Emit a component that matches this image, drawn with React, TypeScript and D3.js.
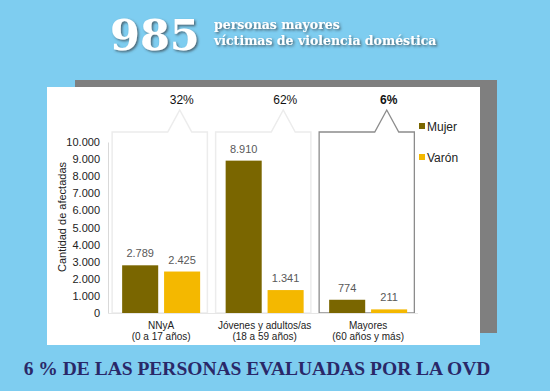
import { useRef, useEffect } from "react";
import * as d3 from "d3";

const categories = ["NNyA", "Jóvenes y adultos/as", "Mayores"];
const categorySub = ["(0 a 17 años)", "(18 a 59 años)", "(60 años y más)"];
const seriesNames = ["Mujer", "Varón"];
const mujer = [2789, 8910, 774];
const varon = [2425, 1341, 211];
const shares = ["32%", "62%", "6%"];

const W = 550;
const H = 391;
const colors = ["#7a6600", "#f4b800"];

export default function App() {
  const svgRef = useRef<SVGSVGElement>(null);

  useEffect(() => {
    const svg = d3.select(svgRef.current).html(null);
    const locale = d3.formatLocale({ decimal: ",", thousands: ".", grouping: [3], currency: ["$", ""] });
    const fmt = locale.format(",d");

    // background
    svg.append("rect").attr("width", W).attr("height", H).attr("fill", "#7ecdf0");
    svg.append("rect").attr("x", 75).attr("y", 80).attr("width", 422).attr("height", 253).attr("fill", "#7f7f7f");
    svg.append("rect").attr("x", 47).attr("y", 87).attr("width", 433).attr("height", 258).attr("fill", "#fff");

    const defs = svg.append("defs");
    const f = defs.append("filter").attr("id", "sh").attr("x", "-10%").attr("y", "-10%").attr("width", "130%").attr("height", "140%");
    f.append("feDropShadow").attr("dx", 1.5).attr("dy", 1.5).attr("stdDeviation", 0.8).attr("flood-color", "#3a4a55").attr("flood-opacity", 0.8);

    // header
    svg.append("text").attr("x", 110).attr("y", 50).text("985")
      .attr("font-family", "DejaVu Serif").attr("font-weight", "bold").attr("font-size", 43)
      .attr("fill", "#fff").attr("filter", "url(#sh)");
    const hd = svg.append("text").attr("font-family", "DejaVu Serif").attr("font-weight", "bold")
      .attr("font-size", 12.5).attr("fill", "#fff").attr("filter", "url(#sh)");
    hd.append("tspan").attr("x", 214).attr("y", 29).text("personas mayores");
    hd.append("tspan").attr("x", 214).attr("y", 45).text("víctimas de violencia doméstica");

    svg.append("text").attr("x", 257).attr("y", 375).attr("text-anchor", "middle")
      .attr("font-family", "Liberation Serif").attr("font-weight", "bold").attr("font-size", 19.5)
      .attr("fill", "#2a2868").text("6 % DE LAS PERSONAS EVALUADAS POR LA OVD");

    // scales
    const y = d3.scaleLinear().domain([0, 10000]).range([313, 142]);
    const x = d3.scaleBand().domain(categories).range([108, 418.5]).paddingInner(0.08).paddingOuter(0.04);
    const bw = x.bandwidth();
    const xs = d3.scaleBand().domain(seriesNames).range([10, 88]).paddingInner(0.14);

    // callouts
    const top = 132;
    categories.forEach((c, i) => {
      const l = x(c)!;
      const r = l + bw;
      const ax = l + bw * 0.71;
      const p = d3.path();
      p.moveTo(l, y(0));
      p.lineTo(l, top);
      p.lineTo(ax - 12, top);
      p.lineTo(ax, top - 22);
      p.lineTo(ax + 12, top);
      p.lineTo(r, top);
      p.lineTo(r, y(0));
      p.closePath();
      const last = i === categories.length - 1;
      svg.append("path").attr("d", p.toString()).attr("fill", "#fff")
        .attr("stroke", last ? "#8c8c8c" : "#ececec").attr("stroke-width", last ? 1.3 : 1.5);
      svg.append("text").attr("x", ax + 2).attr("y", top - 28).attr("text-anchor", "middle")
        .attr("font-family", "Liberation Sans").attr("font-size", 12)
        .attr("font-weight", last ? "bold" : "normal").attr("fill", "#111").text(shares[i]);
    });

    // axis
    const ax = svg.append("g").attr("transform", "translate(108,0)")
      .call(d3.axisLeft(y).ticks(10).tickFormat((d) => fmt(d as number)).tickSize(0).tickPadding(8));
    ax.select(".domain").attr("stroke", "#d9d9d9");
    ax.selectAll("text").attr("font-family", "Liberation Sans").attr("font-size", 11).attr("fill", "#222");
    svg.append("line").attr("x1", 108).attr("x2", 418).attr("y1", y(0) + 0.5).attr("y2", y(0) + 0.5)
      .attr("stroke", "#e6e6e6");

    svg.append("text").attr("transform", "translate(66,217) rotate(-90)").attr("text-anchor", "middle")
      .attr("font-family", "Liberation Sans").attr("font-size", 11).attr("fill", "#222")
      .text("Cantidad de afectadas");

    // bars
    const data = [mujer, varon];
    seriesNames.forEach((s, si) => {
      const g = svg.append("g");
      g.selectAll("rect").data(data[si]).join("rect")
        .attr("x", (_, i) => x(categories[i])! + xs(s)!)
        .attr("y", (d) => y(d))
        .attr("width", xs.bandwidth())
        .attr("height", (d) => y(0) - y(d))
        .attr("fill", colors[si]);
      g.selectAll("text").data(data[si]).join("text")
        .attr("x", (_, i) => x(categories[i])! + xs(s)! + xs.bandwidth() / 2)
        .attr("y", (d) => y(d) - 8)
        .attr("text-anchor", "middle")
        .attr("font-family", "Liberation Sans").attr("font-size", 11).attr("fill", "#595959")
        .text((d) => fmt(d));
    });

    // category labels
    categories.forEach((c, i) => {
      const cx = x(c)! + 49;
      const t = svg.append("text").attr("text-anchor", "middle")
        .attr("font-family", "Liberation Sans").attr("font-size", 10).attr("fill", "#222");
      t.append("tspan").attr("x", cx).attr("y", 328.5).text(c);
      t.append("tspan").attr("x", cx).attr("y", 340).text(categorySub[i]);
    });

    // legend
    seriesNames.forEach((s, i) => {
      const ly = 127 + i * 31;
      svg.append("rect").attr("x", 419).attr("y", ly - 4).attr("width", 6).attr("height", 6).attr("fill", colors[i]);
      svg.append("text").attr("x", 427).attr("y", ly + 4).attr("font-family", "Liberation Sans")
        .attr("font-size", 12).attr("fill", "#222").text(s);
    });
  }, []);

  return (
    <svg ref={svgRef} width={W} height={H} style={{ position: "absolute", left: 0, top: 0 }} />
  );
}
